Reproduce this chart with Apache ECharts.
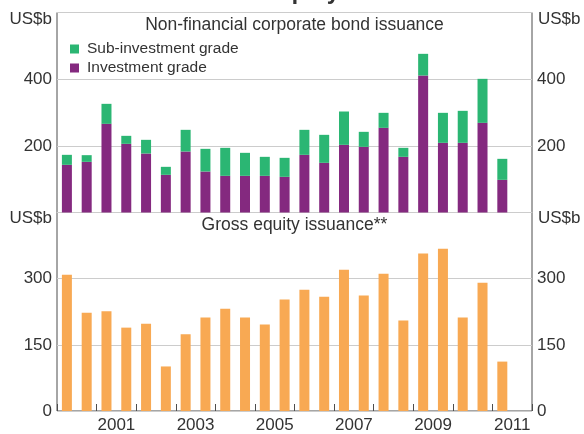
<!DOCTYPE html>
<html>
<head>
<meta charset="utf-8">
<style>
  html, body { margin: 0; padding: 0; background: #fff; }
  #chart { width: 584px; height: 434px; }
</style>
<script src="https://cdn.jsdelivr.net/npm/echarts@6/dist/echarts.min.js"></script>
</head>
<body>
<div id="chart"></div>
<script>
// half-year categories, 2000 H1 .. 2011 H2 (last one empty)
var halfYears = [];
var years = ["2000", "2001", "2002", "2003", "2004", "2005", "2006", "2007", "2008", "2009", "2010", "2011"];
years.forEach(function (y) {
    halfYears.push(y + "H1");
    halfYears.push(y + "H2");
});

// US$b
var investmentGrade = [143, 152, 266, 206, 177, 113, 183, 123, 110, 110, 110, 107,
    173, 149, 203, 197, 254, 167, 411, 209, 209, 269, 98];
var subInvestmentGrade = [30, 20, 60, 24, 41, 24, 65, 68, 84, 69, 57, 57,
    75, 84, 100, 45, 45, 27, 65, 90, 96, 132, 63];
var equityIssuance = [309, 223, 226, 189, 198, 101, 174, 212, 232, 212, 196, 253,
    275, 259, 320, 262, 311, 205, 357, 368, 212, 291, 112];

var FONT = "'Liberation Sans', Arial, Helvetica, sans-serif";
var TEXT = "#333333";
var LINE = "#4d4d4d";
var GRID = "#cccccc";

var chart = echarts.init(document.getElementById("chart"));

function valueAxis(gridIndex, side, max, interval, hide) {
    return {
        type: "value",
        gridIndex: gridIndex,
        position: side,
        min: 0,
        max: max,
        interval: interval,
        axisLine: { show: false },
        axisTick: { show: false },
        splitLine: { show: side === "left", lineStyle: { color: GRID, width: 1 } },
        axisLabel: {
            margin: 5,
            fontSize: 17,
            fontFamily: FONT,
            color: TEXT,
            formatter: function (v) {
                return hide.indexOf(v) >= 0 ? "" : String(v);
            }
        }
    };
}

function label(x, y, text, align, font) {
    return {
        type: "text", silent: true,
        style: { x: x, y: y, text: text, align: align, verticalAlign: "middle", font: font, fill: TEXT }
    };
}

var option = {
    animation: false,
    textStyle: { fontFamily: FONT },
    grid: [
        { left: 57, right: 52, top: 12.5, height: 200, show: true, borderColor: LINE, borderWidth: 1 },
        { left: 57, right: 52, top: 212.5, height: 199.5, show: true, borderColor: LINE, borderWidth: 1 }
    ],
    legend: {
        orient: "vertical",
        left: 70,
        top: 41,
        padding: 0,
        itemWidth: 9,
        itemHeight: 9,
        itemGap: 3,
        icon: "rect",
        data: ["Sub-investment grade", "Investment grade"],
        textStyle: { fontSize: 15.5, lineHeight: 16, fontFamily: FONT, color: TEXT, padding: [0, 0, 0, 3] }
    },
    xAxis: [
        {
            type: "category", gridIndex: 0, data: halfYears,
            axisLine: { show: false }, axisTick: { show: false }, axisLabel: { show: false }
        },
        {
            type: "category", gridIndex: 1, data: halfYears, show: false
        },
        {
            type: "category", gridIndex: 1, data: years, position: "bottom",
            axisLine: { show: false },
            axisTick: { show: true, inside: true, length: 7, interval: 0, lineStyle: { color: LINE } },
            axisLabel: {
                margin: 6,
                fontSize: 17,
                fontFamily: FONT,
                color: TEXT,
                interval: function (i, v) { return Number(v) % 2 === 1; }
            }
        }
    ],
    yAxis: [
        valueAxis(0, "left", 600, 200, [0, 600]),
        valueAxis(0, "right", 600, 200, [0, 600]),
        valueAxis(1, "left", 450, 150, [450]),
        valueAxis(1, "right", 450, 150, [450])
    ],
    series: [
        {
            name: "Investment grade", type: "bar", stack: "bonds",
            xAxisIndex: 0, yAxisIndex: 0, barWidth: 10,
            itemStyle: { color: "#84297f" },
            data: investmentGrade
        },
        {
            name: "Sub-investment grade", type: "bar", stack: "bonds",
            xAxisIndex: 0, yAxisIndex: 0, barWidth: 10,
            itemStyle: { color: "#2bb673" },
            data: subInvestmentGrade
        },
        {
            name: "Gross equity issuance", type: "bar",
            xAxisIndex: 1, yAxisIndex: 2, barWidth: 10,
            itemStyle: { color: "#f8a953" },
            data: equityIssuance
        }
    ],
    graphic: [
        label(300, -7.5, "Bond and Equity Issuance", "center", "bold 23.5px " + FONT),
        label(294.5, 25, "Non-financial corporate bond issuance", "center", "17.5px " + FONT),
        label(294.5, 225, "Gross equity issuance**", "center", "17.5px " + FONT),
        label(52, 19.5, "US$b", "right", "17px " + FONT),
        label(538, 19.5, "US$b", "left", "17px " + FONT),
        label(52, 218.5, "US$b", "right", "17px " + FONT),
        label(538, 218.5, "US$b", "left", "17px " + FONT)
    ]
};

chart.setOption(option);
</script>
</body>
</html>
